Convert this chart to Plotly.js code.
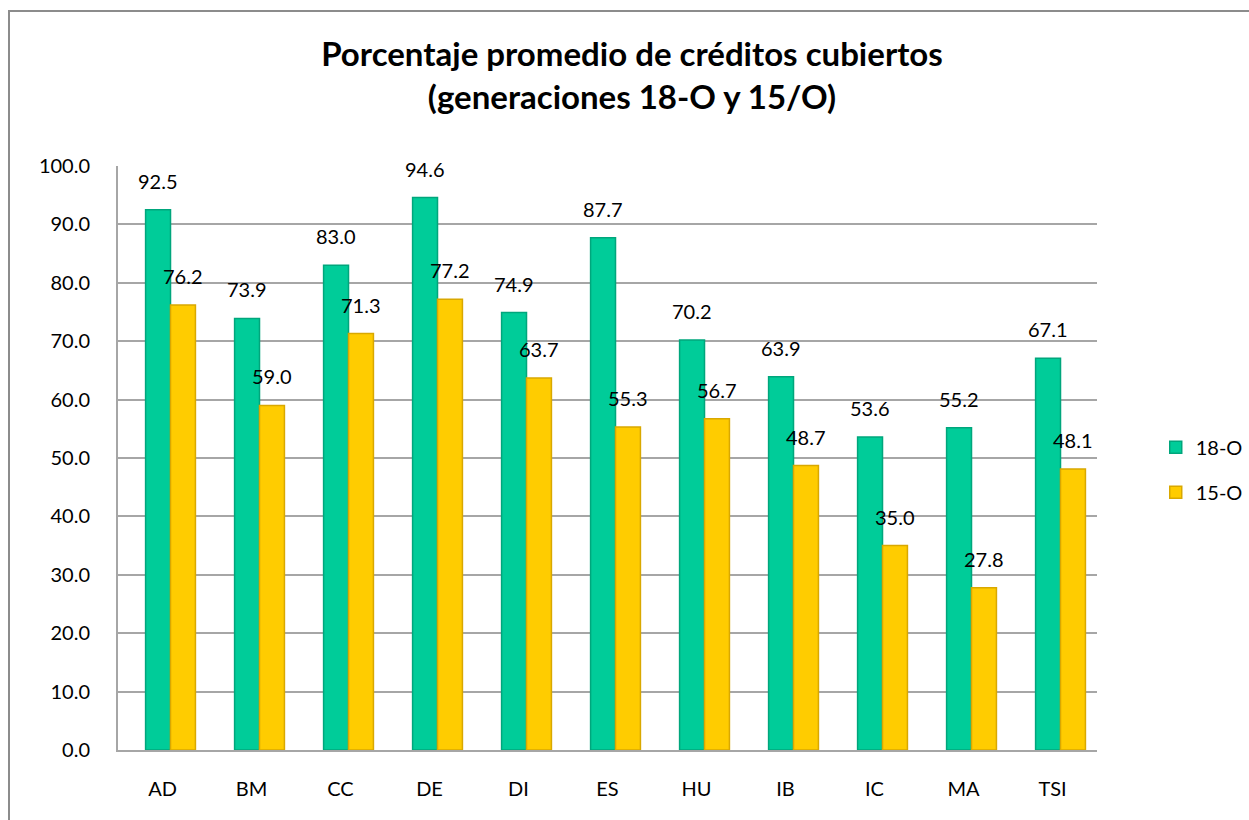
<!DOCTYPE html>
<html>
<head>
<meta charset="utf-8">
<script src="https://cdn.plot.ly/plotly-3.0.1.min.js"></script>
<style>
  html, body { margin:0; padding:0; background:#fff; }
  #frame { position:absolute; left:8px; top:10px; width:1260px; height:830px; border-left:2px solid #8c8c8c; border-top:2px solid #8c8c8c; box-sizing:border-box; }
  #chart { position:absolute; left:0; top:0; width:1249px; height:820px; }
</style>
</head>
<body>
<div id="frame"></div>
<div id="chart"></div>
<script>
const categories = ["AD","BM","CC","DE","DI","ES","HU","IB","IC","MA","TSI"];
const series18 = [92.5, 73.9, 83.0, 94.6, 74.9, 87.7, 70.2, 63.9, 53.6, 55.2, 67.1];
const series15 = [76.2, 59.0, 71.3, 77.2, 63.7, 55.3, 56.7, 48.7, 35.0, 27.8, 48.1];
const seriesNames = ["18-O", "15-O"];
const yTicks = [0,10,20,30,40,50,60,70,80,90,100];

const font = "Lato, 'Open Sans', 'Liberation Sans', sans-serif";
const BW = 0.28;
const OFF = [-0.19, 0.09];
const COLORS = ["#00CC99", "#FFCC00"];
const EDGES = ["#00A67C", "#D9A800"];
const allSeries = [series18, series15];

const traces = allSeries.map((s, k) => ({
  type:"bar", name:seriesNames[k], x:categories, y:s,
  width:BW, offset:OFF[k], legendgroup:"g"+k,
  marker:{color:COLORS[k], line:{color:EDGES[k], width:1.5}}
}));

const annotations = [];
allSeries.forEach((s, k) => {
  s.forEach((v, i) => {
    annotations.push({
      x:categories[i], y:v, xref:"x", yref:"y",
      text:v.toFixed(1), showarrow:false, yanchor:"bottom",
      xshift:(OFF[k] + BW/2) * 88.8, yshift:15,
      font:{family:font, size:20, color:"#000"}
    });
  });
});

const layout = {
  width:1249, height:820,
  paper_bgcolor:"rgba(0,0,0,0)", plot_bgcolor:"rgba(0,0,0,0)",
  margin:{l:118, r:152, t:166, b:70, autoexpand:false},
  title:{text:"<b>Porcentaje promedio de créditos cubiertos<br>(generaciones 18-O y 15/O)</b>",
         font:{family:font, size:33, color:"#000"}, x:0.506, xanchor:"center", y:0.919, yanchor:"middle"},
  barmode:"overlay",
  showlegend:true,
  legend:{x:1.06, xanchor:"left", y:0.48, yanchor:"middle", font:{family:font, size:20, color:"#000"},
          traceorder:"grouped", itemwidth:30, tracegroupgap:16, bgcolor:"rgba(0,0,0,0)"},
  annotations:annotations,
  xaxis:{type:"category", showgrid:false, showline:true, linecolor:"#a6a6a6", linewidth:2,
         ticks:"", tickfont:{family:font, size:20, color:"#000"}, ticklabelstandoff:20},
  yaxis:{range:[0,100], tickvals:yTicks, ticktext:yTicks.map(v=>v.toFixed(1)),
         showgrid:true, gridcolor:"#a6a6a6", gridwidth:2, zeroline:false,
         showline:true, linecolor:"#a6a6a6", linewidth:2, ticks:"",
         tickfont:{family:font, size:20, color:"#000"}, ticklabelstandoff:22}
};

Plotly.newPlot("chart", traces, layout, {displayModeBar:false, staticPlot:true});
</script>
</body>
</html>
